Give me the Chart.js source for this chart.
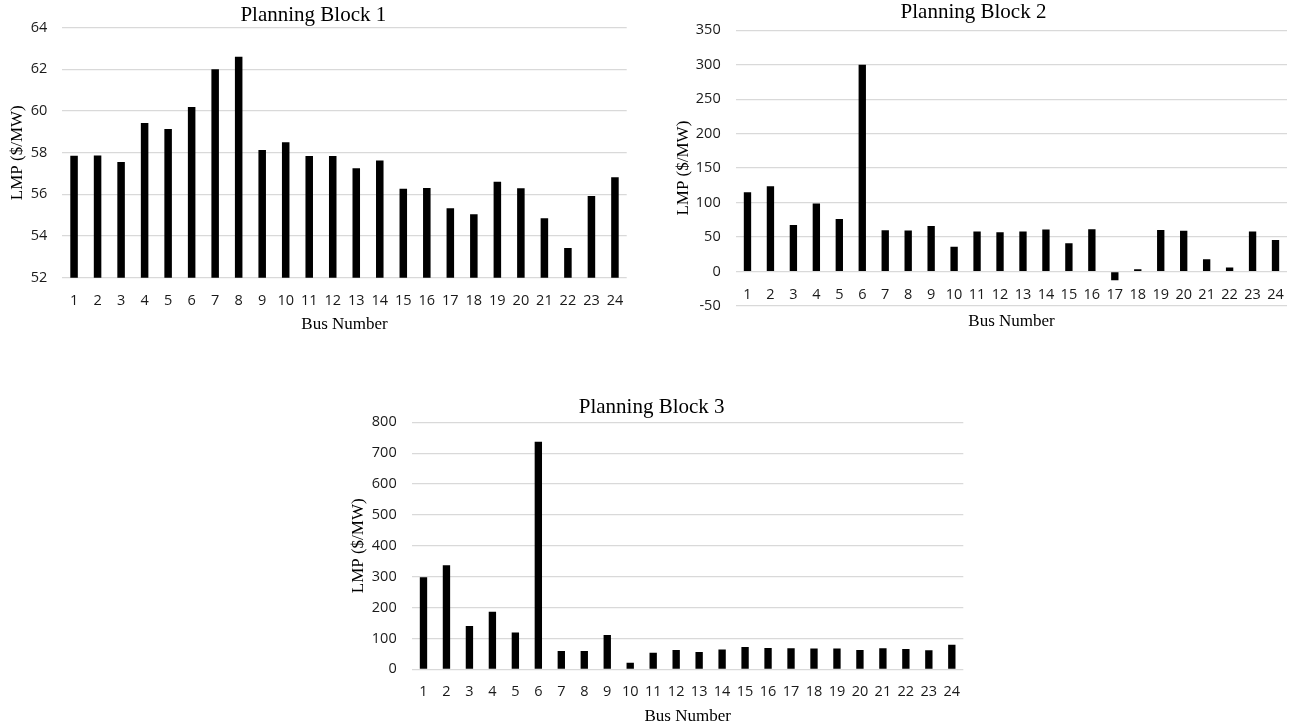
<!DOCTYPE html>
<html>
<head>
<meta charset="utf-8">
<title>Planning Block LMP</title>
<script src="https://cdn.jsdelivr.net/npm/chart.js@4.4.1/dist/chart.umd.min.js"></script>
<style>
    body { margin: 0; background: #fff; }
    .box { position: absolute; }
</style>
</head>
<body>
<div class="box" style="left:0px;top:0px;width:640px;height:340px"><canvas id="block1"></canvas></div>
<div class="box" style="left:660px;top:0px;width:632px;height:340px"><canvas id="block2"></canvas></div>
<div class="box" style="left:340px;top:390px;width:640px;height:337px"><canvas id="block3"></canvas></div>
<script>
// bus numbers on the x axis
const busNumbers = ["1", "2", "3", "4", "5", "6", "7", "8", "9", "10", "11", "12",
    "13", "14", "15", "16", "17", "18", "19", "20", "21", "22", "23", "24"];

// LMP ($/MW) per bus
const lmpBlock1 = [57.85, 57.87, 57.55, 59.42, 59.14, 60.19, 62.0, 62.61, 58.13, 58.5, 57.84, 57.84,
    57.25, 57.63, 56.27, 56.3, 55.33, 55.04, 56.61, 56.29, 54.85, 53.42, 55.92, 56.82];
const lmpBlock2 = [115, 123.7, 67.7, 98.6, 76.4, 300, 60, 59.5, 66.2, 35.8, 58, 57,
    58, 61, 41, 61.4, -12.5, 3.5, 60.2, 59.3, 18, 6, 58, 45.8];
const lmpBlock3 = [298, 337, 140, 186, 119, 737, 59, 59, 111, 21.6, 54, 62.6,
    56, 64, 72, 69, 68, 67, 67, 62.6, 68.5, 65.5, 61.5, 79.5];

// y axis ranges
const yRange1 = { min: 52, max: 64, step: 2 };
const yRange2 = { min: -50, max: 350, step: 50 };
const yRange3 = { min: 0, max: 800, step: 100 };

const serif = "'Liberation Serif', 'Times New Roman', serif";
const sans = "'Open Sans', 'Noto Sans', sans-serif";
const gridGray = "#d9d9d9";

function drawBlock(canvasId, title, values, range, geo) {
    const xScale = {
        position: geo.xAtZero ? { y: 0 } : "bottom",
        grid: { display: false },
        border: { display: false },
        ticks: { color: "#1a1a1a", font: { family: sans, size: 14.5 }, padding: geo.xTickPad, maxRotation: 0, autoSkip: false },
        title: { display: true, text: "Bus Number", color: "#000", font: { family: serif, size: 17 }, padding: { top: 0, bottom: -2 } },
        afterFit: (scale) => { scale.height = geo.xHeight; }
    };
    return new Chart(document.getElementById(canvasId), {
        type: "bar",
        data: {
            labels: busNumbers,
            datasets: [{
                data: values,
                backgroundColor: "#000",
                borderWidth: 0,
                barPercentage: 0.32,
                categoryPercentage: 1.0
            }]
        },
        options: {
            responsive: true,
            maintainAspectRatio: false,
            animation: false,
            layout: { padding: { left: 0, right: geo.padRight, top: 0, bottom: geo.padBottom } },
            plugins: {
                legend: { display: false },
                tooltip: { enabled: false },
                title: {
                    display: true,
                    text: title,
                    color: "#000",
                    font: { family: serif, size: 21, weight: "normal" },
                    padding: { top: geo.titleTop, bottom: geo.titleBottom }
                }
            },
            scales: {
                x: xScale,
                y: {
                    min: range.min,
                    max: range.max,
                    grid: { color: gridGray, lineWidth: 1.3, drawTicks: false },
                    border: { display: false },
                    ticks: { stepSize: range.step, color: "#1a1a1a", font: { family: sans, size: 14.5 }, padding: geo.yTickPad },
                    title: { display: true, text: "LMP ($/MW)", color: "#000", font: { family: serif, size: 17 }, padding: { top: geo.yTitlePad, bottom: 0 } },
                    afterFit: (scale) => { scale.width = geo.yWidth; }
                }
            }
        }
    });
}

drawBlock("block1", "Planning Block 1", lmpBlock1, yRange1,
    { yWidth: 62.3, padRight: 13.3, padBottom: 7.3, xHeight: 55, xTickPad: 6, yTickPad: 15, yTitlePad: 7,
      titleTop: 3.1, titleBottom: -0.6 });
drawBlock("block2", "Planning Block 2", lmpBlock2, yRange2,
    { yWidth: 76, padRight: 5, padBottom: 34, xHeight: 58.5, xTickPad: 6.4, yTickPad: 15.3, yTitlePad: 13.8,
      titleTop: 0.1, titleBottom: 5, xAtZero: true });
drawBlock("block3", "Planning Block 3", lmpBlock3, yRange3,
    { yWidth: 72, padRight: 16.7, padBottom: 1.8, xHeight: 55.9, xTickPad: 5.5, yTickPad: 15.3, yTitlePad: 8.8,
      titleTop: 4.4, titleBottom: 2.7 });
</script>
</body>
</html>
